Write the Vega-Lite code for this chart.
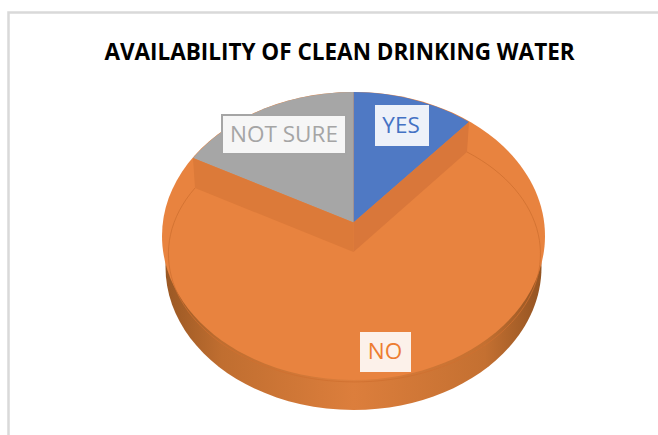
{
  "$schema": "https://vega.github.io/schema/vega-lite/v6.json",
  "width": 658,
  "height": 435,
  "padding": 0,
  "autosize": {"type": "none"},
  "background": "white",
  "view": {"stroke": null},
  "title": {
    "text": "AVAILABILITY OF CLEAN DRINKING WATER",
    "orient": "top",
    "anchor": "middle",
    "frame": "group",
    "offset": -82,
    "dx": 10.5,
    "baseline": "alphabetic",
    "font": "Open Sans",
    "fontSize": 22.5,
    "fontWeight": "bold",
    "color": "#000000"
  },
  "data": {
    "values": [
      {"part": "frame"},
      {"part": "side"},
      {"part": "NO", "value": 72},
      {"part": "YES", "value": 11},
      {"part": "NOT SURE", "value": 17},
      {"part": "wall right"},
      {"part": "wall left"},
      {"part": "rim"},
      {"part": "box NOT SURE", "label": "NOT SURE"},
      {"part": "box YES", "label": "YES"},
      {"part": "box NO", "label": "NO"}
    ]
  },
  "layer": [
    {
      "encoding": {
        "shape": {
          "field": "part",
          "type": "nominal",
          "legend": null,
          "scale": {
            "domain": ["frame", "side", "NO", "YES", "NOT SURE", "wall right", "wall left", "rim", "box NOT SURE", "box YES", "box NO"],
            "range": [
              "M-320.5,217.5 L-320.5,-205 L329,-205",
              "M-163.5,49.5 A188,143 0 1 0 212.5,49.5 A188,143 0 1 0 -163.5,49.5 Z",
              "M-167,18.5 A191.5,144 0 1 1 216,18.5 A191.5,144 0 1 1 -167,18.5 Z",
              "M24.5,5 L24.5,-125.5 A191.5,144 0 0 1 140,-95.5 Z",
              "M24.5,5 L-136,-59.5 A191.5,144 0 0 1 24.5,-125.5 Z",
              "M24.5,5 L140,-95.5 L138,-65.5 L24.5,34.5 Z",
              "M24.5,5 L-136,-59.5 L-134,-29.5 L24.5,34.5 Z",
              "M138,-65.5 A186,128 0 1 1 -134,-29.5",
              "M-107,-102.5 L17,-102.5 L17,-63.5 L-107,-63.5 Z",
              "M47,-111.5 L99,-111.5 L99,-72.5 L47,-72.5 Z",
              "M32,115.5 L81,115.5 L81,153.5 L32,153.5 Z"
            ]
          }
        }
      },
      "resolve": {"scale": {"fill": "independent", "stroke": "independent"}},
      "layer": [
        {
          "transform": [{"filter": "datum.part === 'frame'"}],
          "mark": {"type": "point", "filled": false, "size": 4, "opacity": 1, "fill": null, "stroke": "#d9d9d9", "strokeWidth": 2.5}
        },
        {
          "transform": [{"filter": "datum.part === 'side'"}],
          "mark": {
            "type": "point", "filled": true, "size": 4, "opacity": 1,
            "fill": {
              "gradient": "linear", "x1": 0, "x2": 1, "y1": 0, "y2": 0,
              "stops": [
                {"offset": 0, "color": "#9a5824"},
                {"offset": 0.15, "color": "#c06e30"},
                {"offset": 0.5, "color": "#dc7e3c"},
                {"offset": 0.85, "color": "#c47031"},
                {"offset": 1, "color": "#945422"}
              ]
            }
          }
        },
        {
          "transform": [{"filter": "indexof(['NO','YES','NOT SURE','wall right','wall left'], datum.part) >= 0"}],
          "mark": {"type": "point", "filled": true, "size": 4, "opacity": 1},
          "encoding": {
            "fill": {
              "field": "part",
              "type": "nominal",
              "legend": null,
              "scale": {
                "domain": ["NO", "YES", "NOT SURE", "wall right", "wall left"],
                "range": ["#e8833f", "#4f79c4", "#a6a6a6", "#d9773a", "#dc7a39"]
              }
            }
          }
        },
        {
          "transform": [{"filter": "datum.part === 'rim'"}],
          "mark": {"type": "point", "filled": false, "size": 4, "opacity": 1, "fill": null, "stroke": "#cf7030", "strokeWidth": 0.8}
        },
        {
          "transform": [{"filter": "indexof(['box NOT SURE','box YES','box NO'], datum.part) >= 0"}],
          "mark": {"type": "point", "filled": true, "size": 4, "opacity": 1, "strokeWidth": 2},
          "encoding": {
            "fill": {
              "field": "part",
              "type": "nominal",
              "legend": null,
              "scale": {
                "domain": ["box NOT SURE", "box YES", "box NO"],
                "range": ["#f6f6f6", "#edf1f9", "#fcf1ea"]
              }
            },
            "stroke": {
              "field": "part",
              "type": "nominal",
              "legend": null,
              "scale": {
                "domain": ["box NOT SURE", "box YES", "box NO"],
                "range": ["#a5a5a5", "#edf1f9", "#fcf1ea"]
              }
            }
          }
        }
      ]
    },
    {
      "transform": [{"filter": "datum.label === 'NOT SURE'"}],
      "mark": {"type": "text", "font": "Open Sans", "fontSize": 22.5, "align": "center", "baseline": "middle", "color": "#a5a5a5"},
      "encoding": {
        "text": {"field": "label", "type": "nominal"},
        "x": {"field": "label", "type": "nominal", "axis": null, "scale": {"domain": ["NOT SURE"], "range": [284, 284]}},
        "y": {"field": "label", "type": "nominal", "axis": null, "scale": {"domain": ["NOT SURE"], "range": [135, 135]}}
      }
    },
    {
      "transform": [{"filter": "datum.label === 'YES'"}],
      "mark": {"type": "text", "font": "Open Sans", "fontSize": 22.5, "align": "center", "baseline": "middle", "color": "#4472c4"},
      "encoding": {
        "text": {"field": "label", "type": "nominal"},
        "x": {"field": "label", "type": "nominal", "axis": null, "scale": {"domain": ["YES"], "range": [401, 401]}},
        "y": {"field": "label", "type": "nominal", "axis": null, "scale": {"domain": ["YES"], "range": [126, 126]}}
      }
    },
    {
      "transform": [{"filter": "datum.label === 'NO'"}],
      "mark": {"type": "text", "font": "Open Sans", "fontSize": 22.5, "align": "center", "baseline": "middle", "color": "#ed7d31"},
      "encoding": {
        "text": {"field": "label", "type": "nominal"},
        "x": {"field": "label", "type": "nominal", "axis": null, "scale": {"domain": ["NO"], "range": [385, 385]}},
        "y": {"field": "label", "type": "nominal", "axis": null, "scale": {"domain": ["NO"], "range": [352, 352]}}
      }
    }
  ],
  "resolve": {"scale": {"x": "independent", "y": "independent"}}
}
